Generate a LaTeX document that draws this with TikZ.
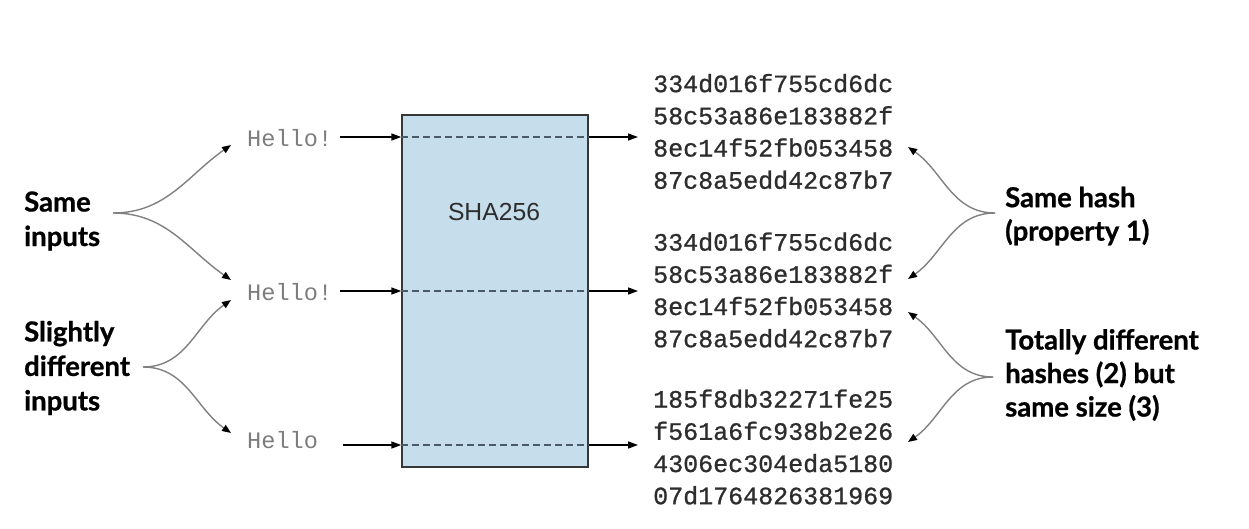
\documentclass[tikz,border=0pt]{standalone}
\usepackage{fontspec}
\setmainfont{Liberation Sans}
\newfontfamily\labfont{Lato}[BoldFeatures={FakeBold=0.8}]
\newfontfamily\monofont{Liberation Mono}
\newfontfamily\hashfont{Liberation Mono}[FakeBold=0.9]
\usetikzlibrary{arrows.meta}
\definecolor{boxfill}{RGB}{198,222,236}
\definecolor{boxdraw}{RGB}{55,55,55}
\definecolor{dashcol}{RGB}{75,90,105}
\definecolor{curvegray}{RGB}{128,128,128}
\definecolor{hellogray}{RGB}{125,125,125}
\definecolor{hashtext}{RGB}{45,45,45}
\tikzset{
  hello/.style={font=\monofont\fontsize{23.6}{28}\selectfont, text=hellogray, inner sep=0pt, anchor=west},
  hash/.style={font=\hashfont\fontsize{25}{32.2}\selectfont, text=hashtext, inner sep=0pt, anchor=west, align=left},
  lab/.style={font=\labfont\bfseries\fontsize{27.5}{34.5}\selectfont, text=black, inner sep=0pt, anchor=west, align=left},
  rlab/.style={font=\labfont\bfseries\fontsize{27.5}{33.5}\selectfont, text=black, inner sep=0pt, anchor=west, align=left},
  harrow/.style={draw=black, line width=1.4pt, -{Triangle[length=10pt,width=7pt]}},
  carrow/.style={draw=curvegray, line width=1.4pt, -{Triangle[length=9pt,width=7pt,color=black,fill=black]}},
  dashline/.style={draw=dashcol, line width=1.6pt, dash pattern=on 7pt off 4pt},
}
\begin{document}
\begin{tikzpicture}[x=1pt,y=-1pt]
\useasboundingbox (0,0) rectangle (1249,528);
% box
\node[draw=boxdraw, fill=boxfill, line width=1.4pt, minimum width=186pt, minimum height=352pt, inner sep=0pt] (box) at (495,291) {};
\node[font=\fontsize{24.7}{28}\selectfont, text=hashtext] (sha) at (494,212) {SHA256};
% inputs
\node[hello] (h1) at (247,138) {Hello!};
\node[hello] (h2) at (247,292) {Hello!};
\node[hello] (h3) at (247,440) {Hello};
\coordinate (s1) at (340,137);
\coordinate (s2) at (340,291);
\coordinate (s3) at (343,445);
\coordinate (b1) at (box.west |- s1);
\coordinate (b2) at (box.west |- s2);
\coordinate (b3) at (box.west |- s3);
\coordinate (e1) at (box.east |- s1);
\coordinate (e2) at (box.east |- s2);
\coordinate (e3) at (box.east |- s3);
\draw[harrow] (s1) -- (b1);
\draw[harrow] (s2) -- (b2);
\draw[harrow] (s3) -- (b3);
\draw[dashline] (b1) -- (e1);
\draw[dashline] (b2) -- (e2);
\draw[dashline] (b3) -- (e3);
% hashes
\node[hash] (g1) at (653,131.5) {334d016f755cd6dc\\58c53a86e183882f\\8ec14f52fb053458\\87c8a5edd42c87b7};
\node[hash] (g2) at (653,290) {334d016f755cd6dc\\58c53a86e183882f\\8ec14f52fb053458\\87c8a5edd42c87b7};
\node[hash] (g3) at (653,447) {185f8db32271fe25\\f561a6fc938b2e26\\4306ec304eda5180\\07d1764826381969};
\coordinate (o1) at (638,137);
\coordinate (o2) at (638,291);
\coordinate (o3) at (638,445);
\draw[harrow] (e1) -- (o1);
\draw[harrow] (e2) -- (o2);
\draw[harrow] (e3) -- (o3);
% left labels
\node[lab] (same) at (24,221) {Same\\inputs};
\node[lab] (slight) at (24,368) {Slightly\\different\\inputs};
\coordinate (j1) at (113,213);
\coordinate (j2) at (143,367);
\coordinate (t1) at (231,145);
\coordinate (t2) at (231,280);
\coordinate (t3) at (231,300);
\coordinate (t4) at (231,433);
\draw[carrow] (j1) to[out=0,in=215] (t1);
\draw[carrow] (j1) to[out=0,in=145] (t2);
\draw[carrow] (j2) to[out=0,in=215] (t3);
\draw[carrow] (j2) to[out=0,in=145] (t4);
% right labels
\node[rlab] (rsame) at (1005,216) {Same hash\\(property 1)};
\node[rlab] (rtot) at (1005,375) {Totally different\\hashes (2) but\\same size (3)};
\coordinate (k1) at (995,213);
\coordinate (k2) at (993,377);
\coordinate (u1) at (908,147);
\coordinate (u2) at (908,279);
\coordinate (u3) at (908,312);
\coordinate (u4) at (908,442);
\draw[carrow] (k1) to[out=180,in=-35] (u1);
\draw[carrow] (k1) to[out=180,in=35] (u2);
\draw[carrow] (k2) to[out=180,in=-35] (u3);
\draw[carrow] (k2) to[out=180,in=35] (u4);
\end{tikzpicture}
\end{document}
